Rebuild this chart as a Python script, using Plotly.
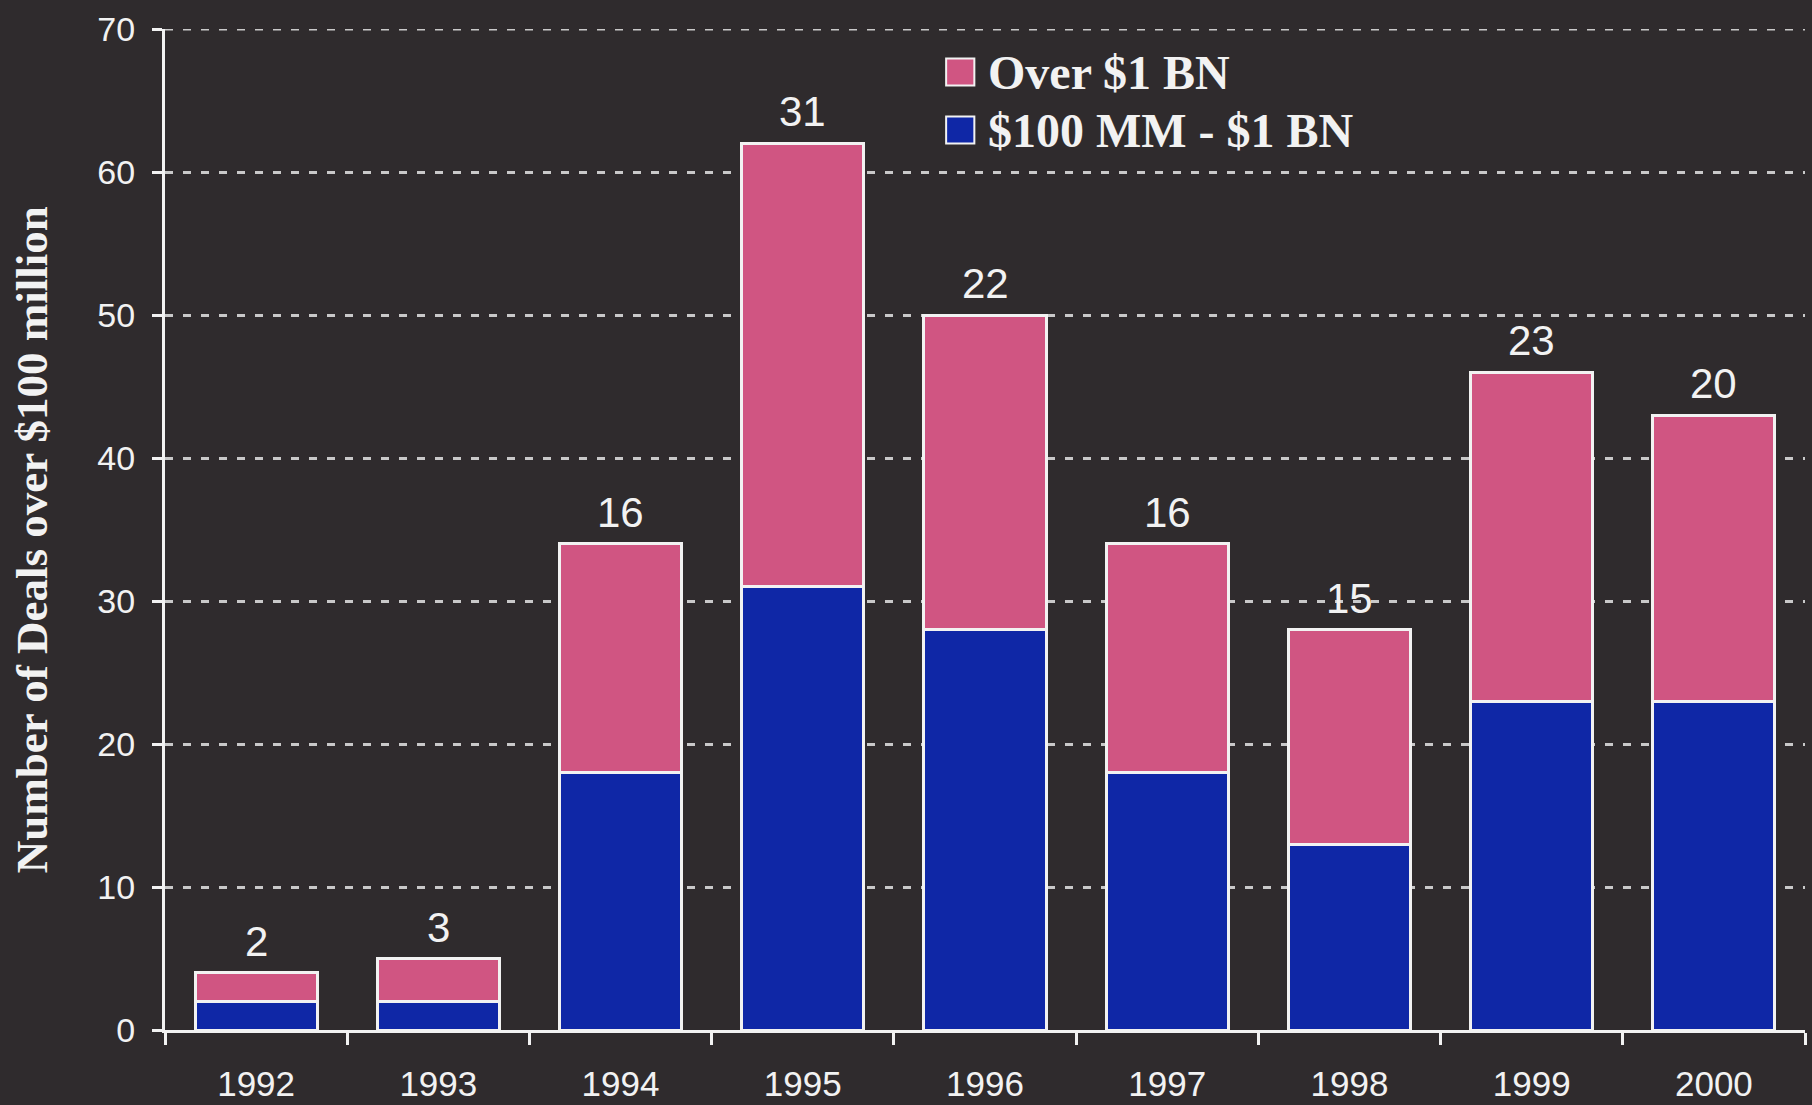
import plotly.graph_objects as go

years = ["1992", "1993", "1994", "1995", "1996", "1997", "1998", "1999", "2000"]
mid_deals = [2, 2, 18, 31, 28, 18, 13, 23, 23]      # $100 MM - $1 BN
big_deals = [2, 3, 16, 31, 22, 16, 15, 23, 20]      # Over $1 BN
series_names = ["Over $1 BN", "$100 MM - $1 BN"]
y_ticks = [0, 10, 20, 30, 40, 50, 60, 70]

BG = "#2f2b2d"
PINK = "#d05582"
BLUE = "#0f27a6"
WHITE = "#f2f2f2"
GRID = "#c9c9c9"

fig = go.Figure()
fig.add_trace(go.Bar(x=years, y=mid_deals, name=series_names[1], marker=dict(color=BLUE, line=dict(color=WHITE, width=3)), width=0.67, showlegend=False))
fig.add_trace(go.Bar(x=years, y=big_deals, name=series_names[0], marker=dict(color=PINK, line=dict(color=WHITE, width=3)), width=0.67, showlegend=False))

annotations = []
for i, (a, b) in enumerate(zip(mid_deals, big_deals)):
    annotations.append(dict(x=i, y=a + b, xref="x", yref="y", text=str(b), showarrow=False,
                            yanchor="bottom", yshift=6,
                            font=dict(family="Liberation Sans, Arial", size=42, color=WHITE)))

# manual legend (large swatches)
shapes = []
legend_colors = [PINK, BLUE]
for i, (nm, col) in enumerate(zip(series_names, legend_colors)):
    yc = 0.957 - i * 0.058
    shapes.append(dict(type="rect", xref="paper", yref="paper",
                       x0=0.4763, x1=0.4935, y0=yc - 0.0135, y1=yc + 0.0135,
                       fillcolor=col, line=dict(color=WHITE, width=2)))
    annotations.append(dict(x=0.5005, y=yc, xref="paper", yref="paper", text=nm, showarrow=False,
                            xanchor="left", yanchor="middle",
                            font=dict(family="Liberation Serif, Times New Roman", size=48, color=WHITE, weight="bold")))

annotations.append(dict(x=-0.081, y=0.4895, xref="paper", yref="paper", text="Number of Deals over $100 million",
                        showarrow=False, textangle=-90, xanchor="center", yanchor="middle",
                        font=dict(family="Liberation Serif, Times New Roman", size=45, color=WHITE, weight="bold")))

# top gridline at the range edge
shapes.append(dict(type="line", xref="paper", yref="y", x0=0, x1=1, y0=y_ticks[-1], y1=y_ticks[-1],
                   line=dict(color=GRID, width=3, dash="8px,10px"), layer="below"))

fig.update_layout(
    width=1812, height=1105,
    paper_bgcolor=BG, plot_bgcolor=BG,
    barmode="stack",
    margin=dict(l=165, r=7, t=29, b=75, autoexpand=False),
    annotations=annotations,
    shapes=shapes,
    showlegend=False,
)
fig.update_xaxes(type="category", range=[-0.5, 8.5], tickson="boundaries", ticks="outside", ticklen=12, tickwidth=3,
                 tickcolor=WHITE, showline=True, linecolor=WHITE, linewidth=3, showgrid=False,
                 ticklabelstandoff=21, automargin=False,
                 tickfont=dict(family="Liberation Sans, Arial", size=35, color=WHITE))
fig.update_yaxes(range=[0, 70], tickvals=y_ticks, ticks="outside", ticklen=10, tickwidth=3, tickcolor=WHITE,
                 showline=True, linecolor=WHITE, linewidth=3, showgrid=True, gridcolor=GRID, gridwidth=3,
                 griddash="8px,10px", zeroline=False, ticklabelstandoff=10, automargin=False,
                 tickfont=dict(family="Liberation Sans, Arial", size=34, color=WHITE))

fig.write_html("out.html", config={"displayModeBar": False},
               post_script="document.body.style.margin='0';document.body.style.overflow='hidden';")
